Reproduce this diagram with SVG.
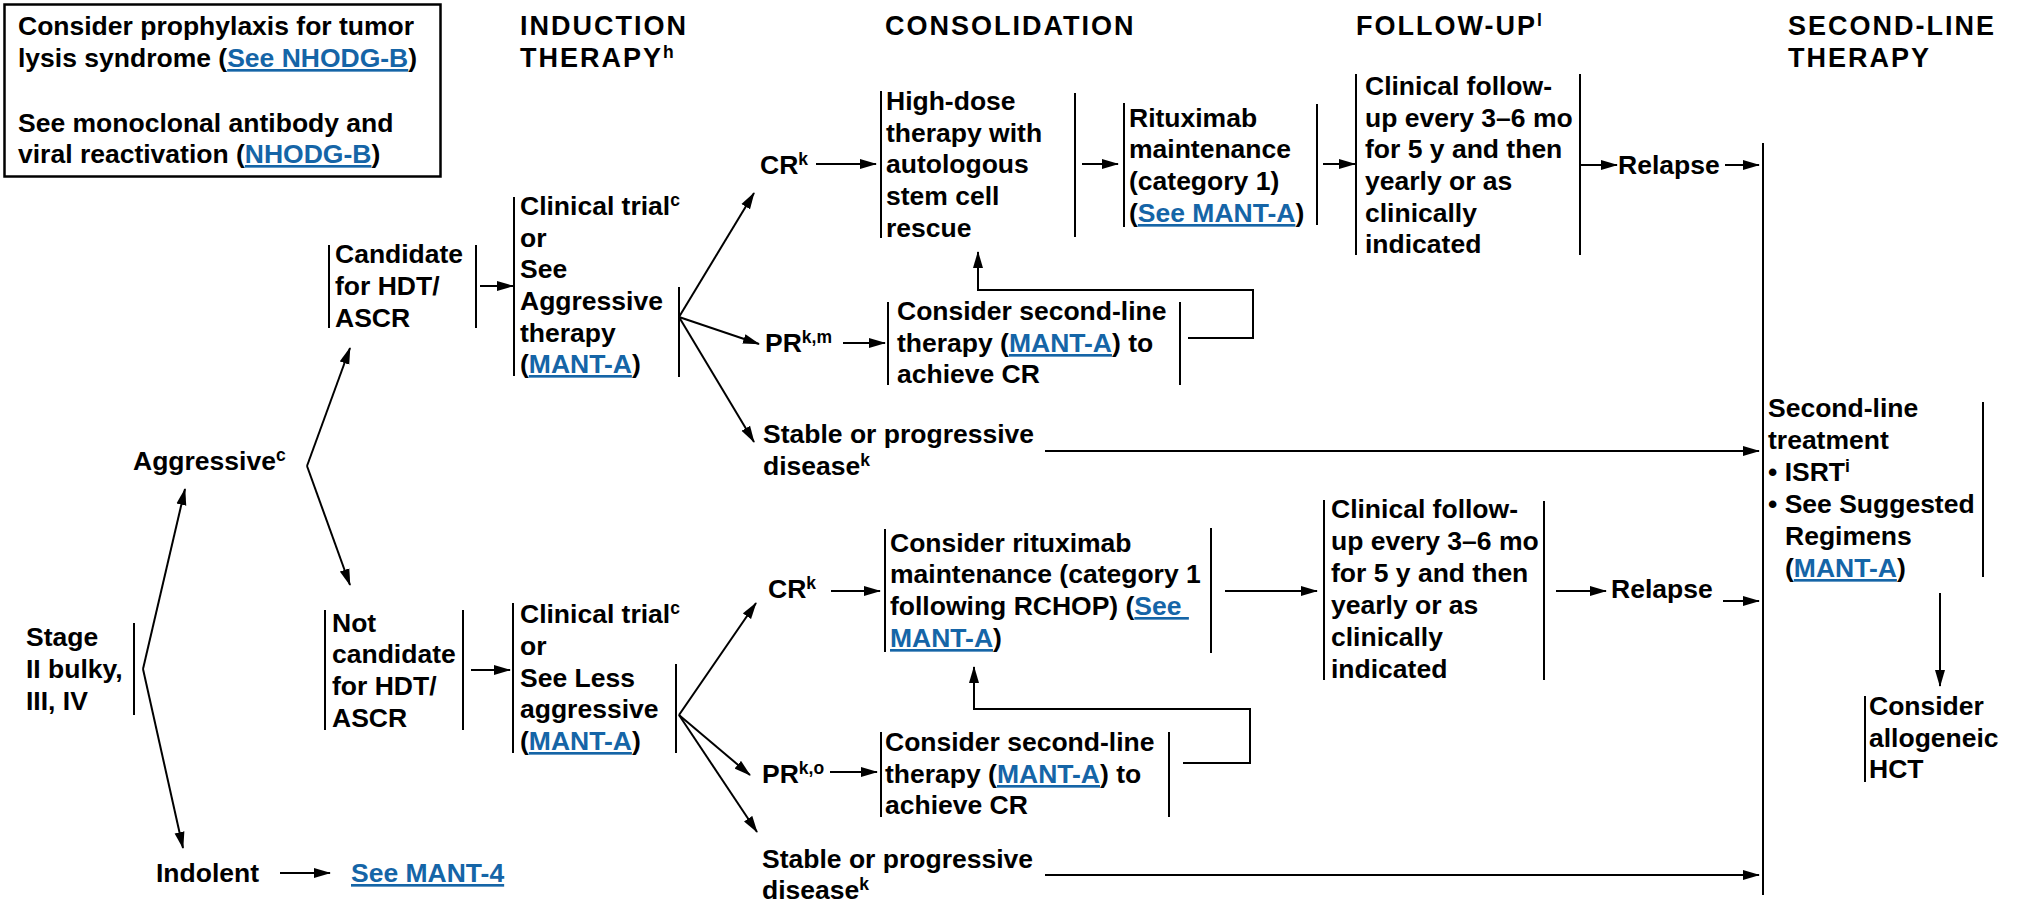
<svg xmlns="http://www.w3.org/2000/svg" width="2021" height="903" viewBox="0 0 2021 903">
<defs>
<style>
.t{font-family:"Liberation Sans",Arial,Helvetica,sans-serif;font-weight:bold;font-size:26.5px;fill:#000}
.h{font-size:27px;letter-spacing:2px}
.sup{font-size:17.5px}
.lnk{fill:#1565a7;text-decoration:underline}
.bar{stroke:#000;stroke-width:2;fill:none}
.cn{stroke:#000;stroke-width:2;fill:none;marker-end:url(#arr)}
</style>
<marker id="arr" markerUnits="userSpaceOnUse" markerWidth="17" markerHeight="11" refX="16" refY="5.5" orient="auto">
<path d="M0,0.5 L17,5.5 L0,10.5 z" fill="#000"/>
</marker>
</defs>
<rect width="2021" height="903" fill="#fff"/>

<g id="notes">
<rect x="4.5" y="4.5" width="436" height="172" fill="none" stroke="#000" stroke-width="2.5"/>
<text class="t"><tspan x="18" y="35">Consider prophylaxis for tumor</tspan><tspan x="18" y="67">lysis syndrome (<tspan class="lnk">See NHODG-B</tspan>)</tspan><tspan x="18" y="132">See monoclonal antibody and</tspan><tspan x="18" y="163">viral reactivation (<tspan class="lnk">NHODG-B</tspan>)</tspan></text>
</g>

<g id="headers">
<text class="t h"><tspan x="520" y="35">INDUCTION</tspan><tspan x="520" y="67">THERAPY</tspan><tspan class="sup" dy="-9">h</tspan></text>
<text class="t h" x="885" y="35">CONSOLIDATION</text>
<text class="t h" x="1356" y="35">FOLLOW-UP<tspan class="sup" dy="-9">l</tspan></text>
<text class="t h"><tspan x="1788" y="35">SECOND-LINE</tspan><tspan x="1788" y="67">THERAPY</tspan></text>
</g>

<g id="stage">
<text class="t"><tspan x="26" y="646">Stage</tspan><tspan x="26" y="678">II bulky,</tspan><tspan x="26" y="710">III, IV</tspan></text>
<line class="bar" x1="134" y1="623" x2="134" y2="715"/>
</g>

<g id="aggressive">
<text class="t" x="133" y="470">Aggressive<tspan class="sup" dy="-9">c</tspan></text>
</g>

<g id="indolent">
<text class="t" x="156" y="882">Indolent</text>
<text class="t lnk" x="351" y="882">See MANT-4</text>
</g>

<g id="candidate">
<line class="bar" x1="329" y1="245" x2="329" y2="328"/>
<text class="t"><tspan x="335" y="263">Candidate</tspan><tspan x="335" y="295">for HDT/</tspan><tspan x="335" y="327">ASCR</tspan></text>
<line class="bar" x1="476" y1="245" x2="476" y2="328"/>
</g>

<g id="not-candidate">
<line class="bar" x1="325" y1="610" x2="325" y2="730"/>
<text class="t"><tspan x="332" y="632">Not</tspan><tspan x="332" y="663">candidate</tspan><tspan x="332" y="695">for HDT/</tspan><tspan x="332" y="727">ASCR</tspan></text>
<line class="bar" x1="463" y1="610" x2="463" y2="730"/>
</g>

<g id="induction-aggressive">
<line class="bar" x1="514" y1="197" x2="514" y2="376"/>
<text class="t"><tspan x="520" y="215">Clinical trial</tspan><tspan class="sup" dy="-9">c</tspan><tspan x="520" y="247">or</tspan><tspan x="520" y="278">See</tspan><tspan x="520" y="310">Aggressive</tspan><tspan x="520" y="342">therapy</tspan><tspan x="520" y="373">(<tspan class="lnk">MANT-A</tspan>)</tspan></text>
<line class="bar" x1="679" y1="287" x2="679" y2="377"/>
</g>

<g id="induction-less">
<line class="bar" x1="513" y1="603" x2="513" y2="753"/>
<text class="t"><tspan x="520" y="623">Clinical trial</tspan><tspan class="sup" dy="-9">c</tspan><tspan x="520" y="655">or</tspan><tspan x="520" y="687">See Less</tspan><tspan x="520" y="718">aggressive</tspan><tspan x="520" y="750">(<tspan class="lnk">MANT-A</tspan>)</tspan></text>
<line class="bar" x1="676" y1="664" x2="676" y2="753"/>
</g>

<g id="cr-upper">
<text class="t" x="760" y="174">CR<tspan class="sup" dy="-9">k</tspan></text>
</g>

<g id="pr-upper">
<text class="t" x="765" y="352">PR<tspan class="sup" dy="-9">k,m</tspan></text>
</g>

<g id="stable-upper">
<text class="t"><tspan x="763" y="443">Stable or progressive</tspan><tspan x="763" y="475">disease</tspan><tspan class="sup" dy="-9">k</tspan></text>
</g>

<g id="high-dose">
<line class="bar" x1="881" y1="91" x2="881" y2="238"/>
<text class="t"><tspan x="886" y="110">High-dose</tspan><tspan x="886" y="142">therapy with</tspan><tspan x="886" y="173">autologous</tspan><tspan x="886" y="205">stem cell</tspan><tspan x="886" y="237">rescue</tspan></text>
<line class="bar" x1="1075" y1="93" x2="1075" y2="237"/>
</g>

<g id="rituximab-upper">
<line class="bar" x1="1124" y1="103" x2="1124" y2="227"/>
<text class="t"><tspan x="1129" y="127">Rituximab</tspan><tspan x="1129" y="158">maintenance</tspan><tspan x="1129" y="190">(category 1)</tspan><tspan x="1129" y="222">(<tspan class="lnk">See MANT-A</tspan>)</tspan></text>
<line class="bar" x1="1317" y1="104" x2="1317" y2="225"/>
</g>

<g id="followup-upper">
<line class="bar" x1="1356" y1="74" x2="1356" y2="255"/>
<text class="t"><tspan x="1365" y="95">Clinical follow-</tspan><tspan x="1365" y="127">up every 3–6 mo</tspan><tspan x="1365" y="158">for 5 y and then</tspan><tspan x="1365" y="190">yearly or as</tspan><tspan x="1365" y="222">clinically</tspan><tspan x="1365" y="253">indicated</tspan></text>
<line class="bar" x1="1580" y1="74" x2="1580" y2="255"/>
</g>

<g id="relapse-upper">
<text class="t" x="1618" y="174">Relapse</text>
</g>

<g id="second-line-upper">
<line class="bar" x1="888" y1="302" x2="888" y2="385"/>
<text class="t"><tspan x="897" y="320">Consider second-line</tspan><tspan x="897" y="352">therapy (<tspan class="lnk">MANT-A</tspan>) to</tspan><tspan x="897" y="383">achieve CR</tspan></text>
<line class="bar" x1="1180" y1="302" x2="1180" y2="385"/>
</g>

<g id="cr-lower">
<text class="t" x="768" y="598">CR<tspan class="sup" dy="-9">k</tspan></text>
</g>

<g id="pr-lower">
<text class="t" x="762" y="783">PR<tspan class="sup" dy="-9">k,o</tspan></text>
</g>

<g id="stable-lower">
<text class="t"><tspan x="762" y="868">Stable or progressive</tspan><tspan x="762" y="899">disease</tspan><tspan class="sup" dy="-9">k</tspan></text>
</g>

<g id="rituximab-lower">
<line class="bar" x1="885" y1="529" x2="885" y2="652"/>
<text class="t"><tspan x="890" y="552">Consider rituximab</tspan><tspan x="890" y="583">maintenance (category 1</tspan><tspan x="890" y="615">following RCHOP) (<tspan class="lnk">See </tspan></tspan><tspan x="890" y="647"><tspan class="lnk">MANT-A</tspan>)</tspan></text>
<line class="bar" x1="1211" y1="528" x2="1211" y2="653"/>
</g>

<g id="followup-lower">
<line class="bar" x1="1324" y1="500" x2="1324" y2="680"/>
<text class="t"><tspan x="1331" y="518">Clinical follow-</tspan><tspan x="1331" y="550">up every 3–6 mo</tspan><tspan x="1331" y="582">for 5 y and then</tspan><tspan x="1331" y="614">yearly or as</tspan><tspan x="1331" y="646">clinically</tspan><tspan x="1331" y="678">indicated</tspan></text>
<line class="bar" x1="1544" y1="501" x2="1544" y2="680"/>
</g>

<g id="relapse-lower">
<text class="t" x="1611" y="598">Relapse</text>
</g>

<g id="second-line-lower">
<line class="bar" x1="881" y1="732" x2="881" y2="817"/>
<text class="t"><tspan x="885" y="751">Consider second-line</tspan><tspan x="885" y="783">therapy (<tspan class="lnk">MANT-A</tspan>) to</tspan><tspan x="885" y="814">achieve CR</tspan></text>
<line class="bar" x1="1169" y1="732" x2="1169" y2="817"/>
</g>

<g id="second-line-treatment">
<line class="bar" x1="1763" y1="143" x2="1763" y2="895"/>
<text class="t"><tspan x="1768" y="417">Second-line</tspan><tspan x="1768" y="449">treatment</tspan><tspan x="1768" y="481">• ISRT</tspan><tspan class="sup" dy="-9">i</tspan><tspan x="1768" y="513">• See Suggested</tspan><tspan x="1785" y="545">Regimens</tspan><tspan x="1785" y="577">(<tspan class="lnk">MANT-A</tspan>)</tspan></text>
<line class="bar" x1="1983" y1="402" x2="1983" y2="577"/>
</g>

<g id="allogeneic">
<line class="bar" x1="1865" y1="696" x2="1865" y2="782"/>
<text class="t"><tspan x="1869" y="715">Consider</tspan><tspan x="1869" y="747">allogeneic</tspan><tspan x="1869" y="778">HCT</tspan></text>
</g>

<g id="connectors">
<path class="cn" d="M143,669 L185,489"/>
<path class="cn" d="M143,669 L183,848"/>
<path class="cn" d="M307,466 L350,348"/>
<path class="cn" d="M307,466 L350,585"/>
<path class="cn" d="M280,873 L330,873"/>
<path class="cn" d="M480,286 L513,286"/>
<path class="cn" d="M471,670 L510,670"/>
<path class="cn" d="M679,317 L754,193"/>
<path class="cn" d="M679,317 L759,344"/>
<path class="cn" d="M679,317 L754,442"/>
<path class="cn" d="M816,164 L876,164"/>
<path class="cn" d="M1082,164 L1118,164"/>
<path class="cn" d="M1323,164 L1355,164"/>
<path class="cn" d="M1580,165 L1617,165"/>
<path class="cn" d="M1725,165 L1759,165"/>
<path class="cn" d="M843,343 L885,343"/>
<path class="cn" d="M1188,338 L1253,338 L1253,290 L978,290 L978,252"/>
<path class="cn" d="M1045,451 L1759,451"/>
<path class="cn" d="M679,715 L756,603"/>
<path class="cn" d="M679,715 L750,775"/>
<path class="cn" d="M679,715 L757,832"/>
<path class="cn" d="M831,591 L880,591"/>
<path class="cn" d="M830,772 L877,772"/>
<path class="cn" d="M1183,763 L1250,763 L1250,709 L974,709 L974,667"/>
<path class="cn" d="M1225,591 L1317,591"/>
<path class="cn" d="M1556,591 L1606,591"/>
<path class="cn" d="M1723,601 L1759,601"/>
<path class="cn" d="M1045,875 L1759,875"/>
<path class="cn" d="M1940,593 L1940,686"/>
</g>
</svg>
